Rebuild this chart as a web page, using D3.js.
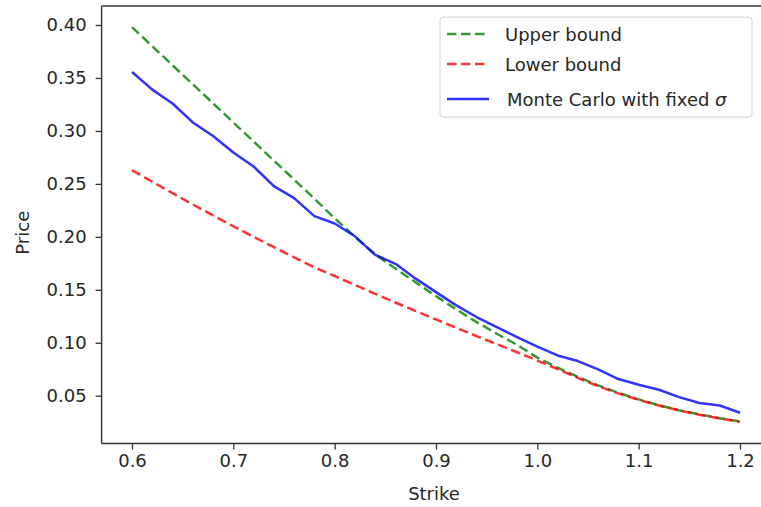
<!DOCTYPE html>
<html><head><meta charset="utf-8">
<script src="https://cdn.jsdelivr.net/npm/d3@7"></script>
<style>
html,body{margin:0;padding:0;background:#fff;}
svg{display:block;}
text{font-family:"DejaVu Sans",sans-serif;fill:#262626;}
</style></head>
<body>
<script>
// ---- data ----
const strikes = [0.60,0.62,0.64,0.66,0.68,0.70,0.72,0.74,0.76,0.78,0.80,0.82,0.84,0.86,0.88,0.90,0.92,0.94,0.96,0.98,1.00,1.02,1.04,1.06,1.08,1.10,1.12,1.14,1.16,1.18,1.20];
const upperBound = [0.398,0.380,0.362,0.344,0.326,0.308,0.290,0.272,0.254,0.236,0.2175,0.2000,0.1835,0.1700,0.1570,0.1440,0.1315,0.1195,0.1085,0.0980,0.0860,0.0765,0.0678,0.0597,0.0527,0.0465,0.0410,0.0363,0.0323,0.0288,0.0256];
const lowerBound = [0.2630,0.2520,0.2412,0.2306,0.2202,0.2100,0.2000,0.1902,0.1806,0.1712,0.1630,0.1545,0.1462,0.1380,0.1299,0.1220,0.1141,0.1063,0.0986,0.0910,0.0832,0.0750,0.0668,0.0590,0.0522,0.0461,0.0407,0.0361,0.0321,0.0286,0.0254];
const monteCarlo = [0.3556,0.3390,0.3259,0.3080,0.2952,0.2796,0.2664,0.2479,0.2366,0.2196,0.2126,0.2005,0.1830,0.1745,0.1605,0.1478,0.1353,0.1243,0.1148,0.1054,0.0964,0.0880,0.0827,0.0749,0.0657,0.0603,0.0556,0.0487,0.0431,0.0407,0.0339];
const xTicks = [0.6,0.7,0.8,0.9,1.0,1.1,1.2];
const yTicks = [0.05,0.10,0.15,0.20,0.25,0.30,0.35,0.40];
const seriesNames = ["Upper bound","Lower bound","Monte Carlo with fixed σ"];

// ---- layout ----
const W = 761, H = 507;
const x = d3.scaleLinear().domain([0.6,1.2]).range([132,740]);
const y = d3.scaleLinear().domain([0.05,0.40]).range([395.7,25]);
const pLeft = x(0.57), pRight = x(1.23), pTop = 6, pBottom = 443.5;

const svg = d3.select("body").append("svg").attr("width",W).attr("height",H);

svg.append("defs").append("clipPath").attr("id","clip")
  .append("rect").attr("x",pLeft).attr("y",pTop).attr("width",pRight-pLeft).attr("height",pBottom-pTop);

const series = [
  {name:seriesNames[0], values:upperBound, color:"#008000", dash:"9.5,4.5"},
  {name:seriesNames[1], values:lowerBound, color:"#ff0000", dash:"9.5,4.5"},
  {name:seriesNames[2], values:monteCarlo, color:"#0000ff", dash:null}
];

const line = d3.line().x((d,i)=>x(strikes[i])).y(d=>y(d));
const g = svg.append("g").attr("clip-path","url(#clip)");
series.forEach(s=>{
  g.append("path").attr("d",line(s.values)).attr("fill","none")
    .attr("stroke",s.color).attr("stroke-width",2.5)
    .attr("stroke-dasharray",s.dash).attr("stroke-opacity",0.8)
    .attr("stroke-linejoin","round");
});

// axes
const xAxis = d3.axisBottom(x).tickValues(xTicks).tickFormat(d3.format(".1f")).tickSize(6).tickPadding(5);
const yAxis = d3.axisLeft(y).tickValues(yTicks).tickFormat(d3.format(".2f")).tickSize(6).tickPadding(9);
const gx = svg.append("g").attr("transform",`translate(0,${pBottom})`).call(xAxis);
const gy = svg.append("g").attr("transform",`translate(${pLeft},0)`).call(yAxis);
[gx,gy].forEach(a=>{
  a.select(".domain").remove();
  a.selectAll(".tick line").attr("stroke","#333").attr("stroke-width",1.3);
  a.selectAll(".tick text").attr("font-size","18px").attr("fill","#333")
    .style("font-family","'DejaVu Sans',sans-serif");
});

// spines
svg.append("line").attr("x1",pLeft).attr("x2",pLeft).attr("y1",pTop).attr("y2",pBottom).attr("stroke","#333").attr("stroke-width",1.4);
svg.append("line").attr("x1",pLeft).attr("x2",pRight).attr("y1",pBottom).attr("y2",pBottom).attr("stroke","#333").attr("stroke-width",1.4);
svg.append("line").attr("x1",pLeft).attr("x2",pRight).attr("y1",pTop).attr("y2",pTop).attr("stroke","#333").attr("stroke-width",1.4);
svg.append("line").attr("x1",pRight).attr("x2",pRight).attr("y1",pTop).attr("y2",pBottom).attr("stroke","#333").attr("stroke-width",1.4);

// axis labels
svg.append("text").attr("x",(pLeft+pRight)/2 - 2).attr("y",500).attr("text-anchor","middle")
  .attr("font-size","18px").attr("fill","#333").text("Strike");
svg.append("text").attr("transform",`translate(29,${(pTop+pBottom)/2+8}) rotate(-90)`).attr("text-anchor","middle")
  .attr("font-size","18px").attr("fill","#333").text("Price");

// legend
const lg = svg.append("g");
lg.append("rect").attr("x",440).attr("y",17).attr("width",312).attr("height",100).attr("rx",3)
  .attr("fill","#fff").attr("fill-opacity",0.8).attr("stroke","#d0d0d0").attr("stroke-width",1);
const rowsY = [34,64,99];
series.forEach((s,i)=>{
  lg.append("line").attr("x1",447).attr("x2",489).attr("y1",rowsY[i]).attr("y2",rowsY[i])
    .attr("stroke",s.color).attr("stroke-width",2.5).attr("stroke-opacity",0.8).attr("stroke-dasharray",s.dash);
  const t = lg.append("text").attr("x", i===2?507:505).attr("y",rowsY[i]+6.5)
    .attr("font-size","18px").attr("fill","#333");
  if(i===2){
    t.text("Monte Carlo with fixed ");
    t.append("tspan").attr("font-style","italic").text("σ");
  } else t.text(s.name);
});
</script>
</body></html>
